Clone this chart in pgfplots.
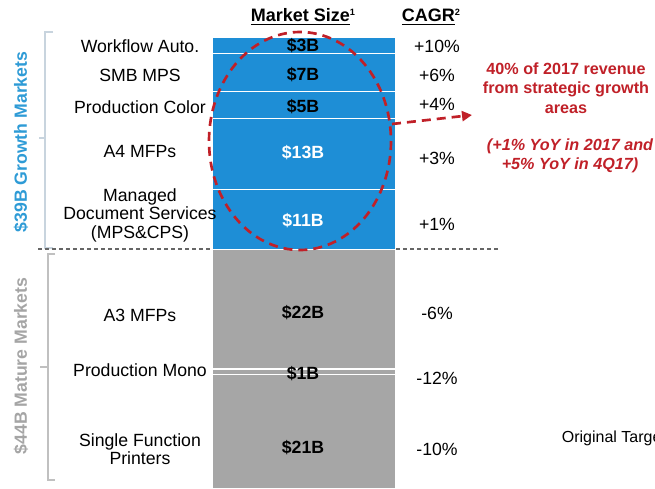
\documentclass[border=0pt]{standalone}
\usepackage{pgfplots}
\pgfplotsset{compat=1.18}
\usepackage{fontspec}
\setmainfont{Liberation Sans}
\usetikzlibrary{arrows.meta}
\definecolor{barblue}{RGB}{30,142,214}
\definecolor{bargray}{RGB}{166,166,166}
\definecolor{lblblue}{RGB}{46,155,214}
\definecolor{lblgray}{RGB}{165,165,165}
\definecolor{dred}{RGB}{192,32,40}
\definecolor{brk}{RGB}{200,212,222}
\begin{document}
\begin{tikzpicture}
\path[use as bounding box] (0,0) rectangle (393pt,292.8pt);
\begin{axis}[
  at={(127.2pt,-0.6pt)}, anchor=south west,
  scale only axis, width=110.4pt, height=271.2pt,
  xmin=-0.5, xmax=0.5, ymin=0, ymax=83,
  axis lines=none, ybar stacked, bar width=110.4pt,
  every axis plot/.append style={draw=white, line width=0.9pt},
  clip=false
]
\addplot[fill=bargray] coordinates {(0,21)}; % Single Function Printers
\addplot[fill=bargray] coordinates {(0,1)};  % Production Mono
\addplot[fill=bargray] coordinates {(0,22)}; % A3 MFPs
\addplot[fill=barblue] coordinates {(0,11)}; % Managed Document Services
\addplot[fill=barblue] coordinates {(0,13)}; % A4 MFPs
\addplot[fill=barblue] coordinates {(0,5)};  % Production Color
\addplot[fill=barblue] coordinates {(0,7)};  % SMB MPS
\addplot[fill=barblue] coordinates {(0,3)};  % Workflow Auto.
\end{axis}
\begin{scope}[x=0.6pt, y=-0.6pt, yshift=292.8pt, font=\fontsize{10.6}{12.6}\selectfont]
% headers
\node[font=\fontsize{10.8}{13}\selectfont\bfseries] at (303,17) {\underline{Market Size}\raisebox{3.5pt}{\fontsize{5.5}{6}\selectfont 1}};
\node[font=\fontsize{10.8}{13}\selectfont\bfseries] at (431,17) {\underline{CAGR}\raisebox{3.5pt}{\fontsize{5.5}{6}\selectfont 2}};
% category labels
\node at (140,46) {Workflow Auto.};
\node at (140,75) {SMB MPS};
\node at (140,107) {Production Color};
\node at (140,152) {A4 MFPs};
\node[align=center] at (140,215) {Managed\\[-1.5pt]Document Services\\[-1.5pt](MPS\&CPS)};
\node at (140,315) {A3 MFPs};
\node at (140,370) {Production Mono};
\node[align=center] at (140,449) {Single Function\\[-1.5pt]Printers};
% bar values
\node[font=\fontsize{10.6}{12.6}\selectfont\bfseries] at (303,46) {\$3B};
\node[font=\fontsize{10.6}{12.6}\selectfont\bfseries] at (303,75) {\$7B};
\node[font=\fontsize{10.6}{12.6}\selectfont\bfseries] at (303,107) {\$5B};
\node[font=\fontsize{10.6}{12.6}\selectfont\bfseries, text=white] at (303,153) {\$13B};
\node[font=\fontsize{10.6}{12.6}\selectfont\bfseries, text=white] at (303,221) {\$11B};
\node[font=\fontsize{10.6}{12.6}\selectfont\bfseries] at (303,313) {\$22B};
\node[font=\fontsize{10.6}{12.6}\selectfont\bfseries] at (303,374) {\$1B};
\node[font=\fontsize{10.6}{12.6}\selectfont\bfseries] at (303,448) {\$21B};
% CAGR
\node at (437,46) {+10\%};
\node at (437,75) {+6\%};
\node at (437,104) {+4\%};
\node at (437,158) {+3\%};
\node at (437,224) {+1\%};
\node at (437,313) {-6\%};
\node at (437,378) {-12\%};
\node at (437,449) {-10\%};
% side labels
\node[rotate=90, text=lblblue, font=\fontsize{10.6}{12.6}\selectfont\bfseries] at (21,142) {\$39B Growth Markets};
\node[rotate=90, text=lblgray, font=\fontsize{10.6}{12.6}\selectfont\bfseries] at (21,366) {\$44B Mature Markets};
% brackets
\draw[brk, line width=0.8pt] (53,32) -- (45,32) -- (45,248) -- (53,248);
\draw[brk, line width=0.8pt] (39,138) -- (45,138);
\draw[lblgray!70, line width=0.8pt] (55,254) -- (48,254) -- (48,480) -- (55,480);
\draw[lblgray!70, line width=0.8pt] (40,367) -- (48,367);
% dashed separator
\draw[black!60, line width=0.8pt, dash pattern=on 2.4pt off 1.8pt] (38,249) -- (212,249);
\draw[black!60, line width=0.8pt, dash pattern=on 2.4pt off 1.8pt] (396,249) -- (498,249);
% red circle and arrow
\draw[dred, line width=1.6pt, dash pattern=on 5.4pt off 3.6pt] (300,141) ellipse [x radius=91, y radius=109];
\draw[dred, line width=1.6pt, dash pattern=on 5.4pt off 3.6pt, -{Triangle[length=6pt,width=6pt]}] (392,124) -- (472,115);
% red text
\node[text=dred, align=center, font=\fontsize{9.7}{11.6}\selectfont\bfseries] at (566,88) {40\% of 2017 revenue\\from strategic growth\\areas};
\node[text=dred, align=center, font=\fontsize{9.7}{11.6}\selectfont\bfseries\itshape] at (570,156) {(+1\% YoY in 2017 and\\+5\% YoY in 4Q17)};
% other
\node[anchor=west, font=\fontsize{9.6}{11.6}\selectfont] at (556,438) {Original Target};
\end{scope}
\end{tikzpicture}
\end{document}
